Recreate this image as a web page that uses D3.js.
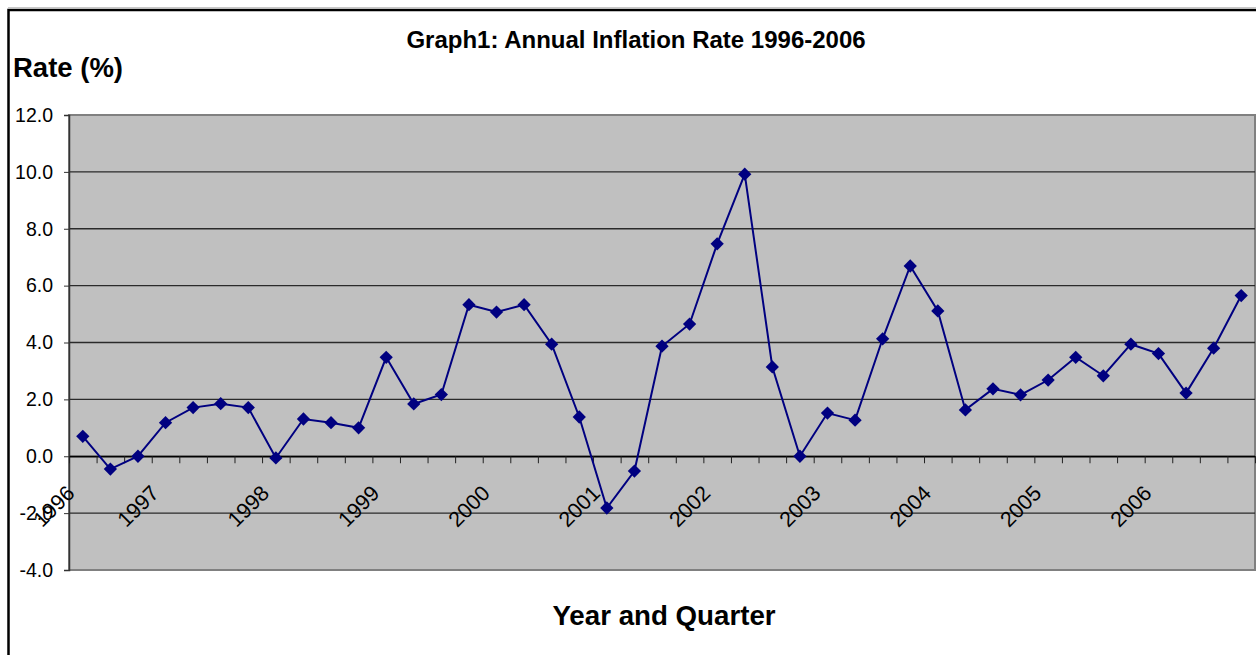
<!DOCTYPE html>
<html>
<head>
<meta charset="utf-8">
<script src="https://cdn.jsdelivr.net/npm/d3@7"></script>
<style>
  body { margin: 0; background: #fff; }
  svg { display: block; font-family: "Liberation Sans", Arial, sans-serif; }
</style>
</head>
<body>
<svg id="chart" width="1256" height="655"></svg>
<script>
// data: quarterly annual inflation rate, 1996 Q1 .. 2006 Q3
const years = ['1996', '1997', '1998', '1999', '2000', '2001', '2002', '2003', '2004', '2005', '2006'];
const rates = [
  0.7, -0.45, 0.0, 1.18,
  1.71, 1.85, 1.71, -0.06,
  1.31, 1.18, 1.0, 3.48,
  1.84, 2.17, 5.33, 5.07,
  5.33, 3.94, 1.38, -1.82,
  -0.52, 3.87, 4.65, 7.47,
  9.92, 3.14, 0.0, 1.52,
  1.27, 4.13, 6.69, 5.11,
  1.63, 2.37, 2.16, 2.68,
  3.48, 2.83, 3.94, 3.61,
  2.22, 3.8, 5.65
];
const quarters = rates.map((d, i) => years[Math.floor(i / 4)] + ' Q' + (i % 4 + 1));
const yTicks = [-4, -2, 0, 2, 4, 6, 8, 10, 12];

const svg = d3.select('#chart');

const plot = { left: 69, right: 1255, top: 115, bottom: 570 };

const x = d3.scaleBand()
  .domain(quarters)
  .range([plot.left, plot.right])
  .padding(0);

const y = d3.scaleLinear()
  .domain([-4, 12])
  .range([plot.bottom, plot.top]);

// outer chart frame (right and bottom edges fall outside the picture)
svg.append('line')
  .attr('x1', 8).attr('x2', 1256)
  .attr('y1', 7.5).attr('y2', 7.5)
  .attr('stroke', '#c8c8c8');

svg.append('path')
  .attr('d', 'M8.5,655 V10 H1256')
  .attr('fill', 'none')
  .attr('stroke', '#000')
  .attr('stroke-width', 2.5);

// plot area
svg.append('rect')
  .attr('x', plot.left)
  .attr('y', plot.top)
  .attr('width', plot.right - plot.left)
  .attr('height', plot.bottom - plot.top)
  .attr('fill', '#c0c0c0')
  .attr('stroke', '#808080')
  .attr('stroke-width', 2);

// gridlines
svg.append('g')
  .selectAll('line')
  .data(yTicks.filter(d => d > -4 && d < 12))
  .join('line')
  .attr('x1', plot.left)
  .attr('x2', plot.right)
  .attr('y1', d => y(d))
  .attr('y2', d => y(d))
  .attr('stroke', '#2a2a2a')
  .attr('stroke-width', 1.4);

// y axis
const yAxis = svg.append('g')
  .attr('transform', `translate(${plot.left},0)`)
  .call(d3.axisLeft(y)
    .tickValues(yTicks)
    .tickFormat(d => d.toFixed(1))
    .tickSize(5)
    .tickPadding(11));

yAxis.select('.domain').attr('stroke', '#333').attr('stroke-width', 1.5);
yAxis.selectAll('.tick line').attr('stroke', '#333');
yAxis.selectAll('text')
  .attr('font-size', '19.5px')
  .attr('fill', '#000')
  .attr('font-family', '"Liberation Sans", Arial, sans-serif');

// x axis crosses at zero; tick marks on every quarter boundary
const xIdx = d3.scaleLinear()
  .domain([0, quarters.length])
  .range([plot.left, plot.right]);

const xAxis = svg.append('g')
  .attr('transform', `translate(0,${y(0)})`)
  .call(d3.axisBottom(xIdx)
    .tickValues(d3.range(0, quarters.length + 1))
    .tickFormat('')
    .tickSize(7)
    .tickSizeOuter(0));

xAxis.select('.domain').attr('stroke', '#000').attr('stroke-width', 1.4);
xAxis.selectAll('.tick line').attr('stroke', '#222');

// year labels, one every four quarters, rotated 45 degrees
svg.append('g')
  .selectAll('text')
  .data(years)
  .join('text')
  .attr('transform', (d, i) => {
    const cx = x(quarters[i * 4]) + x.bandwidth() / 2;
    const px = Math.max(cx - 33, plot.left + 7);
    return `translate(${px},494.5) rotate(-45)`;
  })
  .attr('text-anchor', 'end')
  .attr('font-size', '21.5px')
  .attr('fill', '#000')
  .text(d => d);

// series line and diamond markers
const line = d3.line()
  .x((d, i) => x(quarters[i]) + x.bandwidth() / 2)
  .y(d => y(d));

svg.append('path')
  .datum(rates)
  .attr('d', line)
  .attr('fill', 'none')
  .attr('stroke', '#000080')
  .attr('stroke-width', 2);

svg.append('g')
  .selectAll('path')
  .data(rates)
  .join('path')
  .attr('d', d3.symbol(d3.symbolSquare, 88))
  .attr('transform', (d, i) =>
    `translate(${x(quarters[i]) + x.bandwidth() / 2},${y(d)}) rotate(45)`)
  .attr('fill', '#000080');

// titles
svg.append('text')
  .attr('x', 636)
  .attr('y', 48)
  .attr('text-anchor', 'middle')
  .attr('font-size', '24px')
  .attr('font-weight', 'bold')
  .text('Graph1: Annual Inflation Rate 1996-2006');

svg.append('text')
  .attr('x', 13)
  .attr('y', 77)
  .attr('font-size', '27.5px')
  .attr('font-weight', 'bold')
  .text('Rate (%)');

svg.append('text')
  .attr('x', 664)
  .attr('y', 625)
  .attr('text-anchor', 'middle')
  .attr('font-size', '27.7px')
  .attr('font-weight', 'bold')
  .text('Year and Quarter');
</script>
</body>
</html>
